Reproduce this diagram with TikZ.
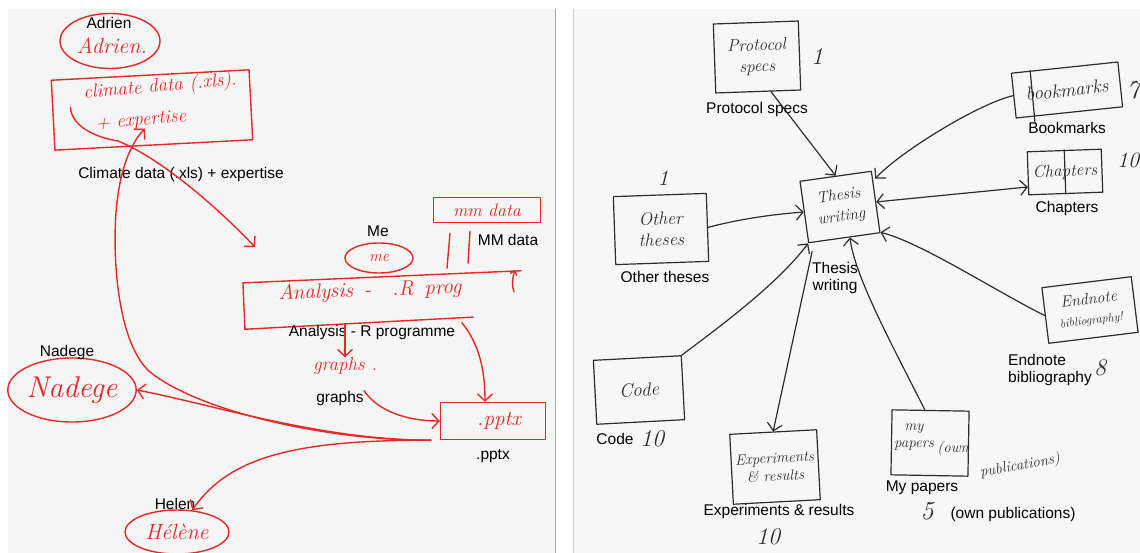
\documentclass[tikz,border=0pt]{standalone}
\usepackage{fontspec}
\newfontfamily\labfont{Liberation Sans}
\usetikzlibrary{arrows.meta,shapes.geometric,calc}
\definecolor{hred}{RGB}{232,40,38}
\definecolor{hblk}{RGB}{45,45,45}
\definecolor{lpanel}{RGB}{245,245,245}
\definecolor{rpanel}{RGB}{247,247,248}
\tikzset{
  redline/.style={draw=hred, line width=1.4pt, line cap=round, line join=round},
  blkline/.style={draw=hblk, line width=1.2pt, line cap=round, line join=round},
  redbox/.style={redline, rectangle, inner sep=0pt},
  blkbox/.style={blkline, rectangle, inner sep=0pt},
  lab/.style={font=\labfont\fontsize{15.5}{17}\selectfont, text=black, inner sep=0pt, align=center},
  rhand/.style={text=hred, inner sep=0pt, align=center, font=\itshape\fontsize{#1}{#1}\selectfont},
  bhand/.style={text=hblk, inner sep=0pt, align=center, font=\itshape\fontsize{#1}{#1}\selectfont},
  rarr/.style={redline, -{Straight Barb[length=7pt,width=15pt]}},
  barr/.style={blkline, -{Straight Barb[length=7pt,width=15pt]}},
  barb/.style={blkline, {Straight Barb[length=7pt,width=15pt]}-{Straight Barb[length=7pt,width=15pt]}},
}
\begin{document}
\begin{tikzpicture}[x=1pt,y=-1pt]
\useasboundingbox (0,0) rectangle (1140,553);
% panels
\fill[lpanel] (8,9) rectangle (555,553);
\draw[gray!70, line width=0.8pt] (555,9) -- (555,553);
\fill[rpanel] (573,9) rectangle (1140,553);
\draw[gray!35, line width=0.8pt] (573,9) -- (573,553);

% ================= LEFT PANEL =================
\node[redbox, ellipse, minimum width=100pt, minimum height=55pt] (adrien) at (110,41) {};
\node[rhand=22] (adrienH) at (112,46) {Adrien.};
\node[lab] (adrienL) at (109,23) {Adrien};

\node[redbox, minimum width=198pt, minimum height=70pt, rotate=3] (climate) at (152,110) {};
\node[rhand=19, rotate=5] (climateH1) at (160,87) {climate data (.xls).};
\node[rhand=19, rotate=5] (climateH2) at (141,121) {+ expertise};
\node[lab] (climateL) at (181,174) {Climate data (.xls) + expertise};

\node[redbox, ellipse, minimum width=68pt, minimum height=30pt, rhand=16] (me) at (379,258) {me};
\node[lab] (meL) at (378,231) {Me};

\node[redbox, minimum width=107pt, minimum height=25pt, rhand=18] (mm) at (487,210) {mm data};
\node[lab] (mmL) at (508,240) {MM data};

\node[minimum width=278pt, minimum height=46pt, inner sep=0pt, rotate=2.5] (analysis) at (383,300) {};
\draw[redline] (analysis.north east) -- (analysis.north west) -- (analysis.south west) -- ($(analysis.south east)+(-50,0)$);
\node[rhand=21, rotate=2] (analysisH) at (370,291) {Analysis\, -\quad .R\, prog};
\draw[redline, -{Straight Barb[length=4pt,width=7pt]}] ($(analysis.east)+(-8,-2)$) .. controls +(-3,-8) and +(-2,6) .. ($(analysis.north east)+(-6,-1)$);
\node[lab] (analysisL) at (372,332) {Analysis - R programme};

\node[rhand=19] (graphs) at (345,366) {graphs .};
\node[lab] (graphsL) at (340,398) {graphs};

\node[redbox, minimum width=105pt, minimum height=37pt, rhand=21] (pptx) at (493,421) {\hspace{12pt}.pptx};
\node[lab] (pptxL) at (493,456) {.pptx};

\node[redbox, ellipse, minimum width=127pt, minimum height=64pt, rhand=30] (nadege) at (72,390) {Nadege};
\node[lab] (nadegeL) at (67,352) {Nadege};

\node[redbox, ellipse, minimum width=104pt, minimum height=44pt, rhand=22] (helen) at (177,532) {Hélène};
\node[lab] (helenL) at (175,504) {Helen};

% left connectors
\coordinate (climtip) at (255,247);
\draw[rarr] ($(climate.west)+(18,-8)$) .. controls +(1,18) and +(-25,-4) .. (118,141) .. controls (160,158) and (215,205) .. (climtip);
\draw[rarr] ([xshift=-9pt]pptx.south west) .. controls (330,441) and (200,412) .. (150,372) .. controls (112,338) and (112,230) .. (118,195) .. controls (122,165) and (132,142) .. ($(climate.south)+(-9,-17)$);
\draw[rarr] ([xshift=-9pt]pptx.south west) .. controls (320,440) and (215,405) .. (nadege.east);
\draw[rarr] ([xshift=-9pt]pptx.south west) .. controls (300,440) and (230,455) .. (helen.55);
\draw[rarr] (graphs.north |- analysisL.north) -- (graphs.north);
\draw[rarr] (graphsL.north east) .. controls +(15,22) and +(-30,0) .. (pptx.west);
\draw[rarr] ($(analysis.south east)!0.22!(analysis.south west)+(0,3)$) .. controls +(18,22) and +(0,-30) .. ([xshift=-8pt]pptx.north);
\draw[redline] ($(mm.south)+(-37,10)$) -- ($(mm.south)+(-40,45)$);
\draw[redline] ($(mm.south)+(-17,8)$) -- ($(mm.south)+(-19,40)$);

% ================= RIGHT PANEL =================
\node[blkbox, minimum width=85pt, minimum height=69pt, rotate=2, bhand=17, align=center] (protocol) at (757,57) {Protocol\\[4pt]specs};
\node[bhand=24] (n1a) at (817,57) {1};
\node[lab] (protocolL) at (757,109) {Protocol specs};

\node[blkbox, minimum width=72pt, minimum height=62pt, rotate=8, bhand=16] (thesis) at (840,207) {Thesis\\[5pt]writing};
\node[lab] (thesisL) at (835,278) {Thesis\\writing};

\node[blkbox, minimum width=107pt, minimum height=45pt, rotate=6, bhand=19] (bookmarks) at (1067,90) {bookmarks};
\draw[blkline] ($(bookmarks.north west)!0.18!(bookmarks.north east)$) -- ($(bookmarks.south west)!0.18!(bookmarks.south east)+(0,6)$);
\node[bhand=26] (n7) at (1133,90) {7};
\node[lab] (bookmarksL) at (1067,128) {Bookmarks};

\node[blkbox, minimum width=74pt, minimum height=43pt, rotate=2, bhand=17] (chapters) at (1065,172) {Chapters};
\draw[blkline] (chapters.north) -- (chapters.south);
\node[bhand=22] (n10a) at (1128,160) {10};
\node[lab] (chaptersL) at (1067,208) {Chapters};

\node[blkbox, minimum width=93pt, minimum height=68pt, rotate=2, bhand=18] (other) at (661,229) {Other\\[3pt]theses};
\node[bhand=22] (n1b) at (663,178) {1};
\node[lab] (otherL) at (665,277) {Other theses};

\node[blkbox, minimum width=90pt, minimum height=56pt, rotate=7, bhand=16] (endnote) at (1090,310) {Endnote\\[4pt]{\fontsize{12}{12}\selectfont bibliography!}};
\node[lab, anchor=west, align=left] (endnoteL) at (1008,370) {Endnote\\bibliography};
\node[bhand=24] (n8) at (1100,368) {8};

\node[blkbox, minimum width=88pt, minimum height=64pt, rotate=3, bhand=19] (code) at (639,390) {Code};
\node[lab] (codeL) at (615,439) {Code};
\node[bhand=24] (n10b) at (652,439) {10};

\node[blkbox, minimum width=87pt, minimum height=70pt, rotate=3, bhand=15] (exp) at (775,467) {Experiments\\[3pt]\& results};
\node[lab] (expL) at (779,511) {Experiments \& results};
\node[bhand=24] (n10c) at (768,537) {10};

\node[blkbox, minimum width=77pt, minimum height=65pt, rotate=-1] (myp) at (930,443) {};
\node[bhand=15] (mypH) at (914,437) {my\\[2pt]papers};
\node[bhand=15] (ownH) at (953,449) {(own};
\node[bhand=15, rotate=10] (pubH) at (1020,466) {publications)};
\node[lab] (mypL) at (922,488) {My papers};
\node[bhand=26] (n5) at (927,511) {5};
\node[lab] (ownL) at (1013,514) {(own publications)};

% right connectors
\draw[barr] (protocol.-70) -- (thesis.north);
\draw[barr, shorten >=3pt] (bookmarks.west) .. controls +(-35,8) and +(25,-28) .. (thesis.30);
\draw[barb] (thesis.east) -- (chapters.200);
\draw[barr] (other.east) .. controls +(30,-8) and +(-30,2) .. (thesis.west);
\draw[barr] (endnote.west) .. controls +(-50,-25) and +(40,10) .. (thesis.-40);
\draw[barr] (code.north east) .. controls +(40,-30) and +(-30,40) .. (thesis.south west);
\draw[barr] ($(thesis.south west)+(4,8)$) -- (exp.north);
\draw[barr] (myp.100) .. controls +(-30,-60) and +(5,40) .. (thesis.-80);
\end{tikzpicture}
\end{document}
